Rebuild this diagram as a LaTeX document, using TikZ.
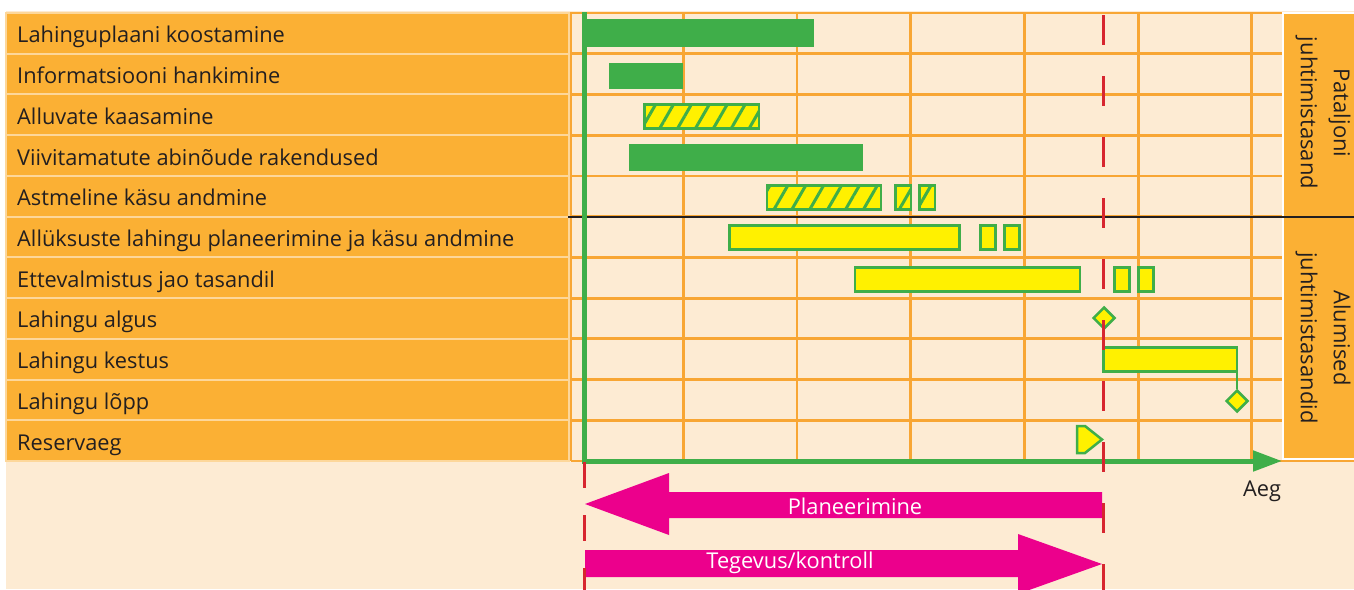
\documentclass[tikz,border=0pt]{standalone}
\usepackage{fontspec}
\setmainfont{Open Sans}
\usetikzlibrary{arrows.meta,shapes.geometric,patterns.meta}
\definecolor{bg}{HTML}{FDEBD3}
\definecolor{org}{HTML}{FBB034}
\definecolor{orgline}{HTML}{F8A634}
\definecolor{orglight}{HTML}{FDD79A}
\definecolor{ggreen}{HTML}{3FAE49}
\definecolor{yel}{HTML}{FFF100}
\definecolor{mag}{HTML}{EC008C}
\definecolor{rdash}{HTML}{D7262F}
\definecolor{txt}{HTML}{231F20}
\tikzset{
  lab/.style={anchor=base west, inner sep=0pt, text=txt},
  gridline/.style={orgline, line width=2.8pt},
  gbar/.style={anchor=north west, fill=ggreen, inner sep=0pt, outer sep=0pt},
  ybar/.style={anchor=north west, fill=yel, draw=ggreen, line width=2.5pt, inner sep=0pt, outer sep=0pt},
  hbar/.style={ybar, postaction={pattern={Lines[angle=60,distance=15.5pt,line width=3pt]}, pattern color=ggreen}, postaction={draw=ggreen, line width=2.5pt}},
  mile/.style={diamond, aspect=1, fill=yel, draw=ggreen, line width=2.5pt, inner sep=0pt, minimum width=22pt, minimum height=22pt},
  reddash/.style={rdash, line width=3pt},
  bigarrow/.style={fill=mag},
  arrowtext/.style={text=white, inner sep=0pt},
  paneltext/.style={rotate=-90, align=center, text=txt, font=\fontsize{22}{33}\selectfont},
}
\begin{document}
\begin{tikzpicture}[x=1pt,y=-1pt, font=\fontsize{21.8}{26}\selectfont]
\useasboundingbox (0,0) rectangle (1354,589);
\clip (0,0) rectangle (1354,589);
\fill[white] (0,0) rectangle (1354,589);
\fill[bg] (6,11) rectangle (1354,589);
% label boxes
\foreach \t [count=\i from 0] in {Lahinguplaani koostamine, Informatsiooni hankimine, Alluvate kaasamine, Viivitamatute abinõude rakendused, Astmeline käsu andmine, Allüksuste lahingu planeerimine ja käsu andmine, Ettevalmistus jao tasandil, Lahingu algus, Lahingu kestus, Lahingu lõpp, Reservaeg}{
  \pgfmathsetmacro\yt{13+40.73*\i}
  \pgfmathsetmacro\yb{13+40.73*(\i+1)}
  \draw[orglight, line width=2pt, fill=org] (6,\yt) rectangle (569,\yb);
  \node[lab] (lab\i) at (17,{(\yt+\yb)/2+9.5}) {\t};
}
% grid
\foreach \i in {0,...,10}{
  \draw[gridline] (571,{13+40.73*\i}) -- (1282,{13+40.73*\i});
}
\draw[gridline] (571,461) -- (1354,461);
\draw[gridline] (571,12) -- (571,461);
\foreach \k in {0,...,5}{
  \draw[gridline] ({683.3+113.7*\k},13) -- ({683.3+113.7*\k},461);
}
% right panel
\draw[white, line width=2.5pt, fill=org] (1283,13) rectangle (1358,217);
\draw[white, line width=2.5pt, fill=org] (1283,217) rectangle (1358,459);
\node[paneltext] (pan1) at (1323,113) {Pataljoni\\juhtimistasand};
\node[paneltext] (pan2) at (1323,338) {Alumised\\juhtimistasandid};
\draw[txt, line width=2.8pt] (568,217) -- (1354,217);
% bars
\node[gbar, minimum width=230pt, minimum height=28pt] (b1) at (584,19) {};
\node[gbar, minimum width=74pt, minimum height=26pt] (b2) at (609,63) {};
\node[hbar, minimum width=114.5pt, minimum height=24pt] (b3) at (644.5,104.5) {};
\node[gbar, minimum width=234pt, minimum height=27pt] (b4) at (629,143.5) {};
\node[hbar, minimum width=114pt, minimum height=24pt] (b5a) at (767,185.5) {};
\node[hbar, minimum width=15.5pt, minimum height=24pt] (b5b) at (895.5,185.5) {};
\node[hbar, minimum width=15.5pt, minimum height=24pt] (b5c) at (919.5,185.5) {};
\node[ybar, minimum width=230pt, minimum height=24pt] (b6a) at (729.5,225.5) {};
\node[ybar, minimum width=15pt, minimum height=24pt] (b6b) at (980.5,225.5) {};
\node[ybar, minimum width=15pt, minimum height=24pt] (b6c) at (1004.5,225.5) {};
\node[ybar, minimum width=225pt, minimum height=24pt] (b7a) at (855,267.5) {};
\node[ybar, minimum width=15pt, minimum height=24pt] (b7b) at (1114.5,267.5) {};
\node[ybar, minimum width=15pt, minimum height=24pt] (b7c) at (1138.5,267.5) {};
\node[mile] (start) at (1104,318) {};
\node[ybar, minimum width=133.5pt, minimum height=24pt] (dur) at (1103.5,347.5) {};
\node[mile] (finish) at (1237,401) {};
\draw[ggreen, line width=2.5pt] (dur.south east) -- (finish.north);
\draw[fill=yel, draw=ggreen, line width=2.5pt, line join=miter] (1077,426) -- (1085,426) -- (1102,439.5) -- (1085,453) -- (1077,453) -- cycle;
% axis
\coordinate (axtop) at (584.5,12);
\coordinate (axorig) at (584.5,461);
\coordinate (axend) at (1282,461);
\draw[ggreen, line width=5pt, line join=miter, -{Triangle[length=29pt,width=20pt]}] (axtop) -- (axorig) -- (axend);
\node[text=txt, inner sep=0pt] (aeg) at (1262,491) {Aeg};
% big arrows
\fill[bigarrow] (585,504) -- (669,473) -- (669,492) -- (1102,492) -- (1102,518) -- (669,518) -- (669,535) -- cycle;
\node[arrowtext] (plan) at (855,506) {Planeerimine};
\fill[bigarrow] (585,550) -- (1018,550) -- (1018,534) -- (1102,564) -- (1018,594) -- (1018,577) -- (585,577) -- cycle;
\node[arrowtext] (teg) at (790,563) {Tegevus/kontroll};
% red dashed lines
\coordinate (r1a) at (1103,15);
\coordinate (r1b) at (1103,600);
\coordinate (r2a) at (584.5,462);
\coordinate (r2b) at (584.5,600);
\draw[reddash, dash pattern=on 30pt off 31pt] (r1a) -- (r1b);
\draw[reddash, dash pattern=on 26pt off 27pt] (r2a) -- (r2b);
\end{tikzpicture}
\end{document}
